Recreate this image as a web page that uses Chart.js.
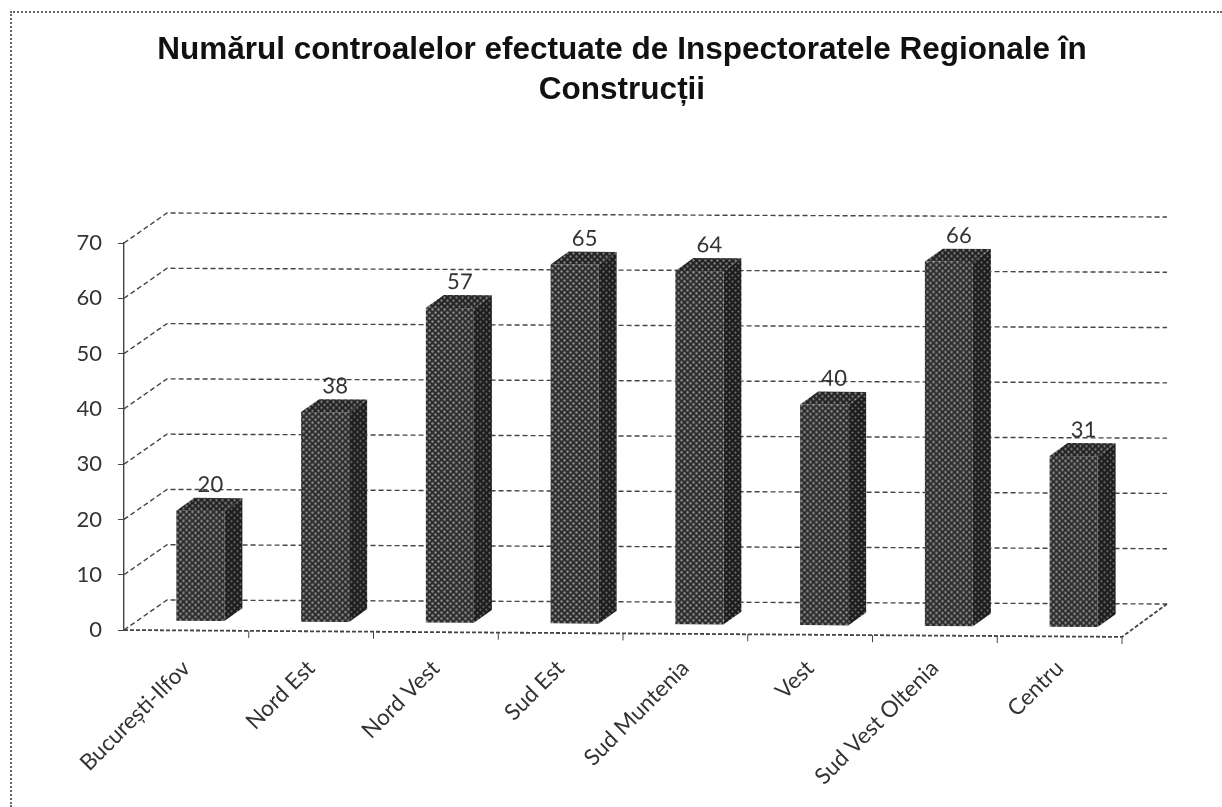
<!DOCTYPE html>
<html>
<head>
<meta charset="utf-8">
<style>
  html, body { margin: 0; padding: 0; background: #fff; overflow: hidden; }
  #wrap { position: relative; width: 1222px; height: 807px; overflow: hidden; }
  #frame { position: absolute; left: 10px; top: 11px; right: 0; bottom: 0; border-left: 2px dotted #666; border-top: 2px dotted #666; }
  canvas { position: absolute; left: 0; top: 0; }
</style>
<script src="https://cdn.jsdelivr.net/npm/chart.js@4"></script>
</head>
<body>
<div id="wrap">
  <!-- wider than the window so that the title centres on x=622 like the original -->
  <canvas id="chart" width="1244" height="807"></canvas>
  <div id="frame"></div>
</div>
<script>
const titleLines = ["Numărul controalelor efectuate de Inspectoratele Regionale în", "Construcții"];
const regions = ["București-Ilfov", "Nord Est", "Nord Vest", "Sud Est", "Sud Muntenia", "Vest", "Sud Vest Oltenia", "Centru"];
const controls = [20, 38, 57, 65, 64, 40, 66, 31];

// 3D look
const floorSkew = 0.0069;
const wallSkew = 0.004;
const wallDx = 43, wallDy = -30;
const barDx = 14, barDy = -9;
const sideDx = 18, sideDy = -13;
const lineColor = "#444";

// halftone of the scan
function halftone(base, dot, r) {
  const c = document.createElement("canvas");
  c.width = 6; c.height = 6;
  const g = c.getContext("2d");
  g.fillStyle = base;
  g.fillRect(0, 0, 6, 6);
  g.fillStyle = dot;
  [[1.5, 1.5], [4.5, 4.5]].forEach(p => {
    g.beginPath();
    g.arc(p[0], p[1], r, 0, Math.PI * 2);
    g.fill();
  });
  return g.createPattern(c, "repeat");
}

function barFrame(ctx, left) {
  ctx.transform(1, floorSkew, 0, 1, barDx, barDy - floorSkew * left);
}

const box3d = {
  id: "box3d",
  beforeDatasetsDraw(chart) {
    const { ctx, chartArea: area, scales } = chart;
    const y = scales.y;

    ctx.save();
    ctx.strokeStyle = lineColor;
    ctx.lineWidth = 1.4;
    ctx.setLineDash([5, 3]);
    for (let v = 0; v <= 70; v += 10) {
      const py = y.getPixelForValue(v);
      ctx.beginPath();
      ctx.moveTo(area.left, py);
      ctx.lineTo(area.left + wallDx, py + wallDy);
      ctx.lineTo(area.right + wallDx + 2, py + wallDy + wallSkew * (area.right - area.left));
      ctx.stroke();
    }

    // floor front edge and its ticks
    const drop = floorSkew * (area.right - area.left);
    ctx.lineWidth = 1.8;
    ctx.setLineDash([4, 2]);
    ctx.beginPath();
    ctx.moveTo(area.left, area.bottom);
    ctx.lineTo(area.right, area.bottom + drop);
    ctx.lineTo(area.right + wallDx + 2, area.bottom + wallDy + wallSkew * (area.right - area.left));
    ctx.stroke();
    ctx.setLineDash([]);
    ctx.lineWidth = 1;
    const step = (area.right - area.left) / regions.length;
    for (let i = 1; i <= regions.length; i++) {
      const px = area.left + step * i;
      const py = area.bottom + floorSkew * step * i;
      ctx.beginPath();
      ctx.moveTo(px, py);
      ctx.lineTo(px, py + 7);
      ctx.stroke();
    }
    ctx.restore();

    // side and top faces
    ctx.save();
    barFrame(ctx, area.left);
    const sideFill = halftone("#1c1c1c", "#777", 1.1);
    const topFill = halftone("#222", "#808080", 1.2);
    chart.getDatasetMeta(0).data.forEach(el => {
      const r = el.x + el.width / 2;
      const l = el.x - el.width / 2;
      ctx.fillStyle = sideFill;
      ctx.beginPath();
      ctx.moveTo(r, el.y);
      ctx.lineTo(r + sideDx, el.y + sideDy);
      ctx.lineTo(r + sideDx, el.base + sideDy);
      ctx.lineTo(r, el.base);
      ctx.closePath();
      ctx.fill();
      ctx.fillStyle = topFill;
      ctx.beginPath();
      ctx.moveTo(l, el.y);
      ctx.lineTo(l + sideDx, el.y + sideDy);
      ctx.lineTo(r + sideDx, el.y + sideDy);
      ctx.lineTo(r, el.y);
      ctx.closePath();
      ctx.fill();
    });
    ctx.restore();

    ctx.save();
    barFrame(ctx, area.left);
  },
  afterDatasetsDraw(chart) {
    const { ctx } = chart;
    ctx.restore();

    ctx.save();
    barFrame(ctx, chart.chartArea.left);
    ctx.fillStyle = "#333";
    ctx.font = "22px Lato";
    ctx.textAlign = "center";
    ctx.textBaseline = "middle";
    chart.getDatasetMeta(0).data.forEach((el, i) => {
      ctx.fillText(controls[i], el.x + 10, el.y + sideDy - 13);
    });
    ctx.restore();
  }
};

new Chart(document.getElementById("chart").getContext("2d"), {
  type: "bar",
  data: {
    labels: regions,
    datasets: [{
      data: controls,
      backgroundColor: halftone("#2c2c2c", "#8f8f8f", 1.25),
      barPercentage: 0.385,
      categoryPercentage: 1
    }]
  },
  plugins: [box3d],
  options: {
    responsive: false,
    animation: false,
    plugins: {
      legend: { display: false },
      tooltip: { enabled: false },
      title: {
        display: true,
        text: titleLines,
        color: "#111",
        font: { family: "Liberation Sans", size: 31.5, weight: "bold", lineHeight: 1.27 },
        padding: { top: 30, bottom: 133 }
      }
    },
    scales: {
      x: {
        afterFit(scale) { scale.height = 177; },
        grid: { display: false },
        border: { display: false },
        ticks: {
          color: "#333",
          font: { family: "Lato", size: 22.5 },
          minRotation: 45,
          maxRotation: 45,
          padding: 17,
          autoSkip: false
        }
      },
      y: {
        min: 0,
        max: 70,
        afterFit(scale) { scale.width = 124; },
        grid: { drawOnChartArea: false, color: lineColor, tickLength: 6 },
        border: { color: lineColor, dash: [3, 2], width: 1.4 },
        ticks: {
          stepSize: 10,
          color: "#333",
          font: { family: "Lato", size: 22 },
          padding: 16
        }
      },
      // only reserves the blank strip right of the floor
      spacer: {
        axis: "y",
        position: "right",
        afterFit(scale) { scale.width = 122; },
        grid: { display: false },
        border: { display: false },
        ticks: { display: false }
      }
    }
  }
});
</script>
</body>
</html>
